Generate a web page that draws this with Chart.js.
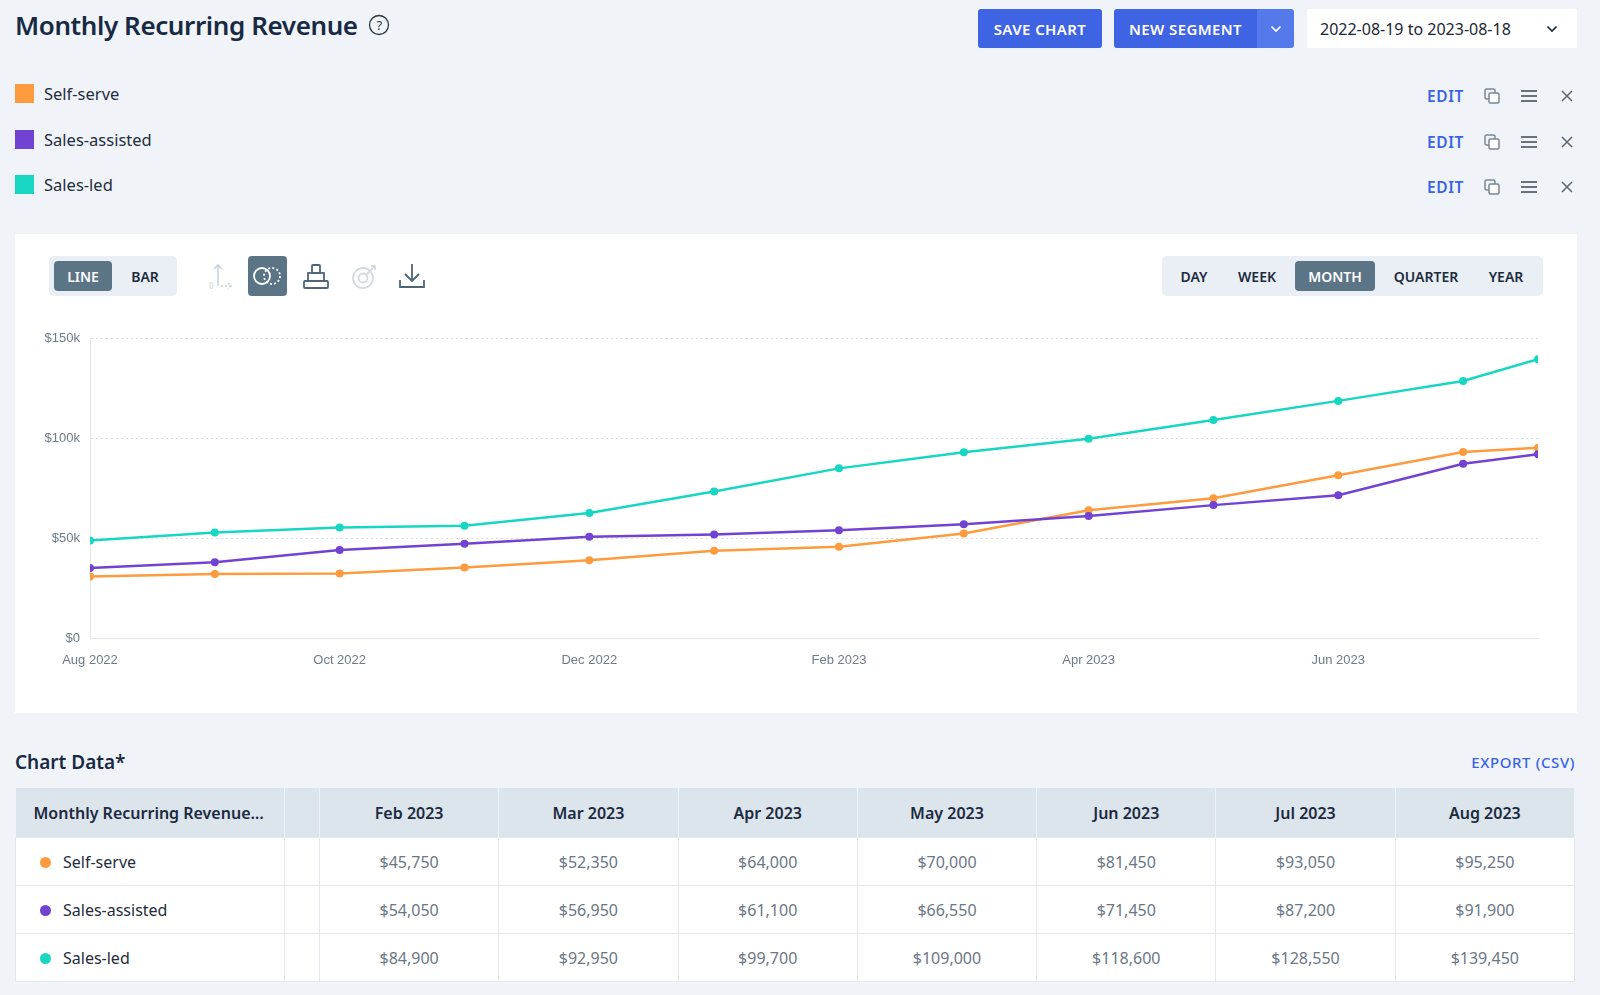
<!DOCTYPE html>
<html>
<head>
<meta charset="utf-8">
<script src="https://cdn.jsdelivr.net/npm/chart.js@4"></script>
<style>
  html, body { margin: 0; padding: 0; }
  body {
    width: 1600px; height: 995px; position: relative; overflow: hidden;
    background: #f0f4f9; font-family: "Noto Sans", sans-serif; color: #1c2b40;
  }
  .abs { position: absolute; }
  .title { left: 15px; top: 7px; font-size: 26px; font-weight: 600; color: #182a43; letter-spacing: -0.4px;
    display: flex; align-items: center; white-space: nowrap; }
  .btn {
    background: #3e64e4; color: #fff; font-size: 15px; font-weight: 600; letter-spacing: 0.4px;
    border-radius: 3px; display: flex; align-items: center; justify-content: center; height: 39px; top: 9px;
  }
  .date {
    left: 1307px; top: 9px; width: 270px; height: 39px; background: #fff;
    font-size: 16px; color: #1b2634; display: flex; align-items: center;
  }
  .legrow { left: 15px; height: 24px; display: flex; align-items: center; font-size: 16.5px; color: #1f2d3d; }
  .legrow .sq { width: 19px; height: 19px; margin-right: 10px; }
  .rowtools { left: 1420px; width: 170px; height: 24px; display: flex; align-items: center; }
  .edit { color: #3b63e6; font-size: 15.5px; font-weight: 600; letter-spacing: 0.6px; position: absolute; left: 7px; }
  .card { left: 15px; top: 234px; width: 1562px; height: 479px; background: #fff; }
  .seg { background: #e9eff5; border-radius: 5px; height: 40px; top: 256px; }
  .segitem { position: absolute; top: 5px; height: 30px; border-radius: 4px; font-size: 14px; font-weight: 600;
    display: flex; align-items: center; justify-content: center; color: #1c2b3d; }
  .segitem.on { background: #5b7486; color: #fff; }
  #chartBox { left: 15px; top: 320px; width: 1562px; height: 370px; }
  .h2 { left: 15px; top: 749px; font-size: 19px; font-weight: 600; color: #182a43; }
  .export { right: 25px; top: 752px; font-size: 15px; color: #3b63e6; letter-spacing: 0.6px; font-weight: 500; }
  table { position: absolute; left: 15px; top: 788px; width: 1560px; border-collapse: collapse; table-layout: fixed; }
  th { background: #dce4ec; height: 49px; font-size: 16px; font-weight: 600; color: #1b2a3e; border-right: 1px solid #eef1f5; padding: 0; }
  td { background: #fff; height: 47px; font-size: 16px; color: #6b7785; text-align: center; border: 1px solid #e4e8ed; padding: 0; }
  td.name { text-align: left; color: #1f2d3d; padding-left: 24px; }
  td.name .dot { display: inline-block; width: 11px; height: 11px; border-radius: 50%; margin-right: 12px; vertical-align: 0px; }
</style>
</head>
<body>

<div class="abs title">Monthly Recurring Revenue
  <svg style="margin-left:10px" width="22" height="22" viewBox="0 0 22 22">
    <circle cx="11" cy="11" r="9.5" fill="none" stroke="#2b3440" stroke-width="1.3"/>
    <text x="11" y="15.5" text-anchor="middle" font-size="13" font-weight="400" font-family="Noto Sans" fill="#2b3440">?</text>
  </svg>
</div>

<div class="abs btn" style="left:978px;width:124px">SAVE CHART</div>
<div class="abs btn" style="left:1114px;width:143px;border-radius:3px 0 0 3px">NEW SEGMENT</div>
<div class="abs btn" style="left:1257px;width:37px;background:#5479ea;border-radius:0 3px 3px 0">
  <svg width="12" height="8" viewBox="0 0 12 8"><path d="M1.5 1.5 L6 6 L10.5 1.5" fill="none" stroke="#fff" stroke-width="1.6"/></svg>
</div>
<div class="abs date"><span style="margin-left:13px">2022-08-19 to 2023-08-18</span>
  <svg style="position:absolute;left:239px;top:16px" width="12" height="8" viewBox="0 0 12 8"><path d="M1.5 1.5 L6 6 L10.5 1.5" fill="none" stroke="#1b2634" stroke-width="1.6"/></svg>
</div>

<div id="legendRows"></div>

<div class="abs card"></div>
<div class="abs seg" style="left:49px;width:128px">
  <div class="segitem on" style="left:5px;width:58px">LINE</div>
  <div class="segitem" style="left:70px;width:52px">BAR</div>
</div>

<svg class="abs" style="left:200px;top:256px" width="230" height="40" viewBox="0 0 230 40">
  <!-- axis icon (disabled) -->
  <g stroke="#c9d3dc" stroke-width="1.6" fill="none">
    <path d="M18 30 L18 9 M14 13 L18 9 L22 13"/>
    <path d="M21 30 L31 30 M28 27 L31 30 L28 33" stroke-dasharray="2 2"/>
  </g>
  <text x="9" y="33" font-size="8" fill="#c9d3dc" font-family="Noto Sans">0</text>
  <!-- active compare icon -->
  <rect x="48" y="0" width="39" height="40" rx="4" fill="#5b7486"/>
  <circle cx="62" cy="20" r="8" fill="none" stroke="#fff" stroke-width="1.8"/>
  <circle cx="72" cy="20" r="8" fill="none" stroke="#fff" stroke-width="1.8" stroke-dasharray="2 2.2"/>
  <!-- stack icon -->
  <g stroke="#4e6577" stroke-width="1.8" fill="none">
    <rect x="104" y="25" width="24" height="7" rx="1"/>
    <rect x="108" y="17" width="16" height="8"/>
    <rect x="112" y="9" width="8" height="8" rx="1"/>
  </g>
  <!-- target icon (disabled) -->
  <g stroke="#d3dbe3" stroke-width="1.8" fill="none">
    <circle cx="163" cy="22" r="10"/>
    <circle cx="163" cy="22" r="4.5"/>
    <path d="M166 19 L174 11 M171 10 L175 10 L175 14"/>
  </g>
  <!-- download icon -->
  <g stroke="#4e6577" stroke-width="1.8" fill="none">
    <path d="M212 8 L212 24 M205 18 L212 25 L219 18"/>
    <path d="M200 24 L200 31 L224 31 L224 24"/>
  </g>
</svg>

<div class="abs seg" style="left:1162px;width:381px">
  <div class="segitem" style="left:14px;width:36px">DAY</div>
  <div class="segitem" style="left:70px;width:50px">WEEK</div>
  <div class="segitem on" style="left:133px;width:80px">MONTH</div>
  <div class="segitem" style="left:222px;width:84px">QUARTER</div>
  <div class="segitem" style="left:318px;width:52px">YEAR</div>
</div>

<div class="abs" id="chartBox"><canvas id="mrrCanvas" width="1562" height="370"></canvas></div>

<div class="abs h2">Chart Data*</div>
<div class="abs export">EXPORT (CSV)</div>
<table id="dataTable"></table>

<script>
// Monthly points, Aug 2022 .. Aug 2023 (last point is the partial month to 2023-08-18)
const monthLabels = ['Aug 2022', 'Sep 2022', 'Oct 2022', 'Nov 2022', 'Dec 2022', 'Jan 2023', 'Feb 2023',
                     'Mar 2023', 'Apr 2023', 'May 2023', 'Jun 2023', 'Jul 2023', 'Aug 2023'];
const monthIndex = [0, 1, 2, 3, 4, 5, 6, 7, 8, 9, 10, 11, 11.6];

const selfServe     = [30900, 32200, 32400, 35400, 39000, 43800, 45750, 52350, 64000, 70000, 81450, 93050, 95250];
const salesAssisted = [35200, 38000, 44100, 47300, 50700, 51900, 54050, 56950, 61100, 66550, 71450, 87200, 91900];
const salesLed      = [48900, 52900, 55400, 56200, 62600, 73400, 84900, 92950, 99700, 109000, 118600, 128550, 139450];

const segmentNames  = ['Self-serve', 'Sales-assisted', 'Sales-led'];
const segmentColors = ['#fd9b3e', '#7242d2', '#17d6c2'];

const xTickValues = [0, 2, 4, 6, 8, 10];
const xTickLabels = ['Aug 2022', 'Oct 2022', 'Dec 2022', 'Feb 2023', 'Apr 2023', 'Jun 2023'];
const yTickValues = [0, 50000, 100000, 150000];
const yTickLabels = ['$0', '$50k', '$100k', '$150k'];

const tableFirstMonth = 6; // table shows Feb 2023 onward

const allSeries = [selfServe, salesAssisted, salesLed];

// Legend rows with tools on the right
(function buildLegend() {
    const host = document.getElementById('legendRows');
    const tops = [81, 127, 172];
    segmentNames.forEach((name, i) => {
        const row = document.createElement('div');
        row.className = 'abs legrow';
        row.style.top = tops[i] + 'px';
        row.innerHTML = '<span class="sq" style="background:' + segmentColors[i] + '"></span>' + name;
        host.appendChild(row);

        const tools = document.createElement('div');
        tools.className = 'abs rowtools';
        tools.style.top = (tops[i] + 3) + 'px';
        tools.innerHTML =
            '<span class="edit">EDIT</span>' +
            '<svg style="position:absolute;left:63px;top:3px" width="18" height="18" viewBox="0 0 18 18">' +
              '<rect x="2" y="2" width="10" height="10" rx="1.5" fill="none" stroke="#7b8794" stroke-width="1.5"/>' +
              '<rect x="6" y="6" width="10" height="10" rx="1.5" fill="#fff" stroke="#7b8794" stroke-width="1.5"/></svg>' +
            '<svg style="position:absolute;left:100px;top:4px" width="18" height="16" viewBox="0 0 18 16">' +
              '<path d="M1 3 H17 M1 8 H17 M1 13 H17" stroke="#3c4856" stroke-width="1.6"/></svg>' +
            '<svg style="position:absolute;left:140px;top:5px" width="14" height="14" viewBox="0 0 14 14">' +
              '<path d="M2 2 L12 12 M12 2 L2 12" stroke="#5a6571" stroke-width="1.5"/></svg>';
        host.appendChild(tools);
    });
})();

// Data table
(function buildTable() {
    const t = document.getElementById('dataTable');
    const months = monthLabels.slice(tableFirstMonth);
    let html = '<colgroup><col style="width:269px"><col style="width:35px">' +
        months.map(() => '<col>').join('') + '</colgroup>';
    html += '<tr><th style="text-align:left;padding-left:18px;white-space:nowrap">Monthly Recurring Revenue\u2026</th><th></th>' +
        months.map(m => '<th>' + m + '</th>').join('') + '</tr>';
    allSeries.forEach((s, i) => {
        html += '<tr><td class="name"><span class="dot" style="background:' + segmentColors[i] + '"></span>' +
            segmentNames[i] + '</td><td></td>' +
            s.slice(tableFirstMonth).map(v => '<td>$' + v.toLocaleString('en-US') + '</td>').join('') + '</tr>';
    });
    t.innerHTML = html;
})();

// Chart
function makeDataset(i) {
    return {
        label: segmentNames[i],
        data: allSeries[i].map((v, k) => ({ x: monthIndex[k], y: v })),
        borderColor: segmentColors[i],
        backgroundColor: segmentColors[i],
        borderWidth: 2.5,
        pointRadius: 4,
        pointBorderWidth: 0,
        tension: 0
    };
}

new Chart(document.getElementById('mrrCanvas'), {
    type: 'line',
    data: { datasets: [makeDataset(2), makeDataset(1), makeDataset(0)] },
    options: {
        responsive: false,
        animation: false,
        layout: { padding: { left: 0, right: 39, top: 18, bottom: 8 } },
        plugins: { legend: { display: false }, tooltip: { enabled: false } },
        scales: {
            x: {
                type: 'linear',
                min: 0,
                max: monthIndex[monthIndex.length - 1],
                afterBuildTicks: axis => { axis.ticks = xTickValues.map(v => ({ value: v })); },
                ticks: {
                    callback: v => xTickLabels[xTickValues.indexOf(v)],
                    color: '#6e7b8b',
                    font: { family: 'Liberation Sans', size: 13 },
                    padding: 14,
                    maxRotation: 0
                },
                grid: { display: false, drawTicks: false },
                border: { display: true, color: '#e3e6ea' }
            },
            y: {
                min: 0,
                max: 150000,
                afterBuildTicks: axis => { axis.ticks = yTickValues.map(v => ({ value: v })); },
                afterFit: axis => { axis.width = 75; },
                ticks: {
                    callback: v => yTickLabels[yTickValues.indexOf(v)],
                    color: '#6e7b8b',
                    font: { family: 'Liberation Sans', size: 13 },
                    padding: 10
                },
                grid: { color: '#d9dde2', drawTicks: false },
                border: { display: true, color: '#e3e6ea', dash: [2, 3] }
            }
        }
    }
});
</script>
</body>
</html>
